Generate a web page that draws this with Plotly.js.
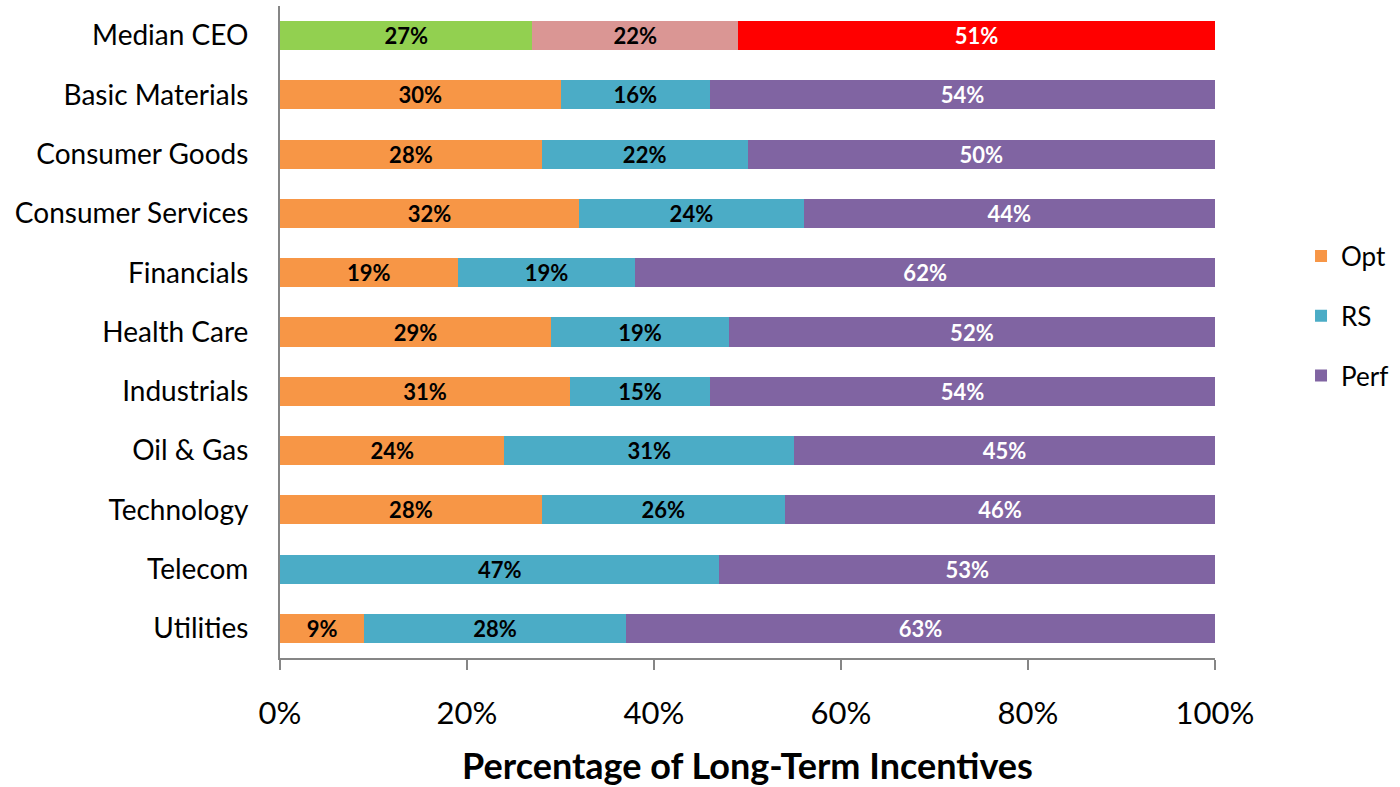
<!DOCTYPE html>
<html>
<head>
<meta charset="utf-8">
<script src="https://cdn.plot.ly/plotly-3.0.1.min.js"></script>
<style>
  html, body { margin: 0; padding: 0; background: #ffffff; }
  #chart { width: 1400px; height: 787px; }
</style>
</head>
<body>
<div id="chart"></div>
<script>
// Sectors, top to bottom
const categories = [
  "Median CEO", "Basic Materials", "Consumer Goods", "Consumer Services",
  "Financials", "Health Care", "Industrials", "Oil & Gas",
  "Technology", "Telecom", "Utilities"
];

// Share of long-term incentives (%) by vehicle, per sector (excluding Median CEO)
const sectors = categories.slice(1);
const optValues  = [30, 28, 32, 19, 29, 31, 24, 28, 0, 9];
const rsValues   = [16, 22, 24, 19, 19, 15, 31, 26, 47, 28];
const perfValues = [54, 50, 44, 62, 52, 54, 45, 46, 53, 63];

// Median CEO row
const medianLabel = ["Median CEO"];
const medianOpt  = [27];
const medianRs   = [22];
const medianPerf = [51];

// Horizontal axis ticks
const xTickValues = [0, 20, 40, 60, 80, 100];
const xTickLabels = ["0%", "20%", "40%", "60%", "80%", "100%"];

const seriesNames = ["Opt", "RS", "Perf"];
const seriesColors = ["#F79646", "#4BACC6", "#8064A2"];
const medianColors = ["#92D050", "#DA9694", "#FF0000"];

const FONT = "Lato, 'Open Sans', 'Liberation Sans', sans-serif";
const labelText = vals => vals.map(v => (v > 0 ? v + "%" : ""));

function barTrace(name, y, x, color, textColor, showlegend, group) {
  return {
    type: "bar",
    orientation: "h",
    name: name,
    y: y,
    x: x,
    text: labelText(x),
    textposition: "inside",
    insidetextanchor: "middle",
    textangle: 0,
    constraintext: "none",
    textfont: { family: FONT, size: 22, color: textColor, weight: "bold" },
    marker: { color: color, line: { width: 0 } },
    hoverinfo: "y+x+name",
    showlegend: showlegend,
    legendgroup: group
  };
}

const traces = [
  barTrace("Opt", medianLabel, medianOpt, medianColors[0], "#000000", false, "m"),
  barTrace("RS", medianLabel, medianRs, medianColors[1], "#000000", false, "m"),
  barTrace("Perf", medianLabel, medianPerf, medianColors[2], "#ffffff", false, "m"),
  barTrace(seriesNames[0], sectors, optValues, seriesColors[0], "#000000", true, "opt"),
  barTrace(seriesNames[1], sectors, rsValues, seriesColors[1], "#000000", true, "rs"),
  barTrace(seriesNames[2], sectors, perfValues, seriesColors[2], "#ffffff", true, "perf")
];

const layout = {
  width: 1400,
  height: 787,
  paper_bgcolor: "#ffffff",
  plot_bgcolor: "#ffffff",
  font: { family: FONT, color: "#000000" },
  barmode: "stack",
  bargap: 0.51,
  margin: { l: 280, r: 185, t: 6, b: 129, pad: 0 },
  xaxis: {
    range: [0, 100],
    tickmode: "array",
    tickvals: xTickValues,
    ticktext: xTickLabels,
    showgrid: false,
    zeroline: false,
    showline: true,
    linecolor: "#868686",
    linewidth: 2,
    ticks: "outside",
    ticklen: 10,
    tickwidth: 2,
    tickcolor: "#868686",
    ticklabelstandoff: 17,
    tickfont: { family: FONT, size: 31, color: "#000000" },
    fixedrange: true,
    title: {
      text: "Percentage of Long-Term Incentives",
      font: { family: FONT, size: 36, color: "#000000", weight: "bold" },
      standoff: 26
    }
  },
  yaxis: {
    type: "category",
    categoryorder: "array",
    categoryarray: categories,
    autorange: "reversed",
    showgrid: false,
    zeroline: false,
    showline: true,
    linecolor: "#868686",
    linewidth: 2,
    ticks: "",
    ticklabelstandoff: 24,
    tickfont: { family: FONT, size: 28, color: "#000000" },
    fixedrange: true
  },
  legend: {
    x: 1.092,
    xanchor: "left",
    y: 0.5245,
    yanchor: "middle",
    traceorder: "grouped",
    tracegroupgap: 23,
    font: { family: FONT, size: 26, color: "#000000" },
    bgcolor: "rgba(0,0,0,0)"
  },
  showlegend: true
};

Plotly.newPlot("chart", traces, layout, { displayModeBar: false, staticPlot: true });
</script>
</body>
</html>
